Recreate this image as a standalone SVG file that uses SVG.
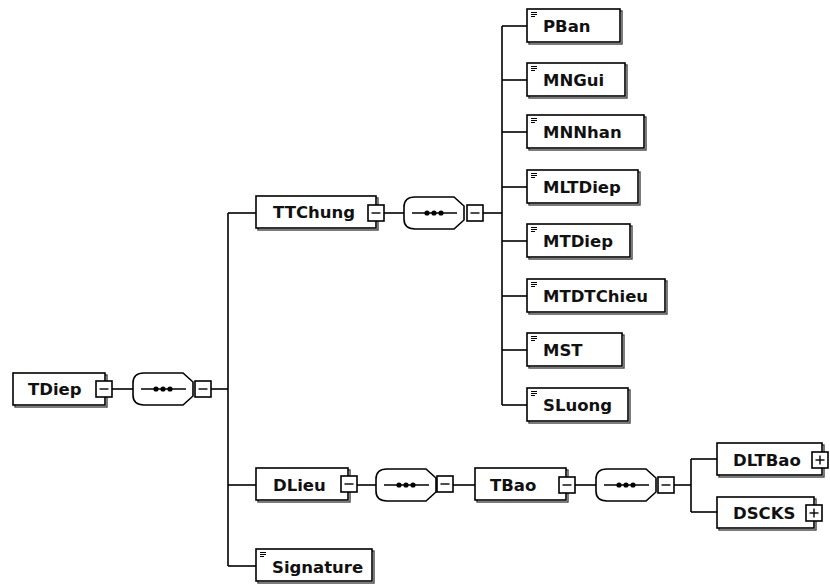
<svg xmlns="http://www.w3.org/2000/svg" xmlns:xlink="http://www.w3.org/1999/xlink" width="830" height="585" viewBox="0 0 830 585">
  <style>
    .box { fill: #fff; stroke: #000; stroke-width: 1.6; }
    .shadow { fill: none; stroke: #444; stroke-width: 1.4; }
    .conn { fill: none; stroke: #000; stroke-width: 1.6; }
    .label { font-family: "DejaVu Sans", Verdana, sans-serif; font-weight: bold; font-size: 16.5px; fill: #111; }
  </style>
  <defs>
    <!-- sequence compositor: softened octagon with a dotted bar -->
    <g id="seq">
      <path d="M11,0 H50 L60,9 V23 L50,32 H11 Q0,32 0,22 V10 Q0,0 11,0 Z" fill="#fff" stroke="#000" stroke-width="1.6"/>
      <line x1="8" y1="16" x2="53" y2="16" stroke="#000" stroke-width="1.4"/>
      <circle cx="23" cy="16" r="2.6" fill="#000"/>
      <circle cx="30" cy="16" r="2.6" fill="#000"/>
      <circle cx="37" cy="16" r="2.6" fill="#000"/>
    </g>
    <!-- collapse button -->
    <g id="minus">
      <rect x="0" y="0" width="16" height="16" fill="#fff" stroke="#000" stroke-width="1.6"/>
      <line x1="3.5" y1="8" x2="12.5" y2="8" stroke="#000" stroke-width="1.4"/>
    </g>
    <!-- expand button -->
    <g id="plus">
      <rect x="0" y="0" width="16" height="16" fill="#fff" stroke="#000" stroke-width="1.6"/>
      <line x1="3.5" y1="8" x2="12.5" y2="8" stroke="#000" stroke-width="1.4"/>
      <line x1="8" y1="3.5" x2="8" y2="12.5" stroke="#000" stroke-width="1.4"/>
    </g>
    <!-- simple-content icon -->
    <g id="leaf">
      <path d="M0,0.5 H6 M0,2.5 H6 M0,4.5 H4" stroke="#000" stroke-width="1"/>
    </g>
  </defs>

  <rect width="830" height="585" fill="#fff"/>

  <!-- connectors -->
  <g id="connectors" class="conn">
    <!-- TDiep -> sequence -> children -->
    <line x1="112" y1="389" x2="133" y2="389"/>
    <line x1="211" y1="389" x2="228" y2="389"/>
    <line x1="228" y1="213" x2="228" y2="566"/>
    <line x1="228" y1="213" x2="256" y2="213"/>
    <line x1="228" y1="485" x2="256" y2="485"/>
    <line x1="228" y1="566" x2="256" y2="566"/>
    <!-- TTChung -> sequence -> children -->
    <line x1="384" y1="213" x2="404" y2="213"/>
    <line x1="483" y1="213" x2="502" y2="213"/>
    <line x1="502" y1="26" x2="502" y2="405"/>
    <line x1="502" y1="26" x2="527" y2="26"/>
    <line x1="502" y1="80" x2="527" y2="80"/>
    <line x1="502" y1="132" x2="527" y2="132"/>
    <line x1="502" y1="187" x2="527" y2="187"/>
    <line x1="502" y1="241" x2="527" y2="241"/>
    <line x1="502" y1="296" x2="527" y2="296"/>
    <line x1="502" y1="350" x2="527" y2="350"/>
    <line x1="502" y1="405" x2="527" y2="405"/>
    <!-- DLieu -> sequence -> TBao -> sequence -> children -->
    <line x1="357" y1="485" x2="376" y2="485"/>
    <line x1="453" y1="485" x2="475" y2="485"/>
    <line x1="575" y1="485" x2="596" y2="485"/>
    <line x1="674" y1="485" x2="691" y2="485"/>
    <line x1="691" y1="459" x2="691" y2="512"/>
    <line x1="691" y1="459" x2="717" y2="459"/>
    <line x1="691" y1="512" x2="717" y2="512"/>
  </g>

  <!-- root element -->
  <g id="TDiep">
    <rect class="shadow" x="15" y="375" width="92" height="32"/>
    <rect class="box" x="13" y="373" width="92" height="32"/>
    <text class="label" x="28" y="395">TDiep</text>
    <use xlink:href="#minus" x="96" y="381"/>
  </g>
  <g id="TDiep-seq">
    <use xlink:href="#seq" x="133" y="373"/>
    <use xlink:href="#minus" x="195" y="381"/>
  </g>

  <!-- TTChung branch -->
  <g id="TTChung">
    <rect class="shadow" x="258" y="198" width="120" height="32"/>
    <rect class="box" x="256" y="196" width="120" height="32"/>
    <text class="label" x="273" y="218">TTChung</text>
    <use xlink:href="#minus" x="368" y="205"/>
  </g>
  <g id="TTChung-seq">
    <use xlink:href="#seq" x="404" y="197"/>
    <use xlink:href="#minus" x="467" y="205"/>
  </g>

  <g id="PBan">
    <rect class="shadow" x="529" y="11" width="93" height="33"/>
    <rect class="box" x="527" y="9" width="93" height="33"/>
    <use xlink:href="#leaf" x="531" y="12"/>
    <text class="label" x="543" y="32">PBan</text>
  </g>
  <g id="MNGui">
    <rect class="shadow" x="529" y="65" width="98" height="33"/>
    <rect class="box" x="527" y="63" width="98" height="33"/>
    <use xlink:href="#leaf" x="531" y="66"/>
    <text class="label" x="543" y="86">MNGui</text>
  </g>
  <g id="MNNhan">
    <rect class="shadow" x="529" y="117" width="117" height="33"/>
    <rect class="box" x="527" y="115" width="117" height="33"/>
    <use xlink:href="#leaf" x="531" y="118"/>
    <text class="label" x="543" y="138">MNNhan</text>
  </g>
  <g id="MLTDiep">
    <rect class="shadow" x="529" y="172" width="111" height="33"/>
    <rect class="box" x="527" y="170" width="111" height="33"/>
    <use xlink:href="#leaf" x="531" y="173"/>
    <text class="label" x="543" y="193">MLTDiep</text>
  </g>
  <g id="MTDiep">
    <rect class="shadow" x="529" y="226" width="103" height="33"/>
    <rect class="box" x="527" y="224" width="103" height="33"/>
    <use xlink:href="#leaf" x="531" y="227"/>
    <text class="label" x="543" y="247">MTDiep</text>
  </g>
  <g id="MTDTChieu">
    <rect class="shadow" x="529" y="281" width="138" height="33"/>
    <rect class="box" x="527" y="279" width="138" height="33"/>
    <use xlink:href="#leaf" x="531" y="282"/>
    <text class="label" x="543" y="302">MTDTChieu</text>
  </g>
  <g id="MST">
    <rect class="shadow" x="529" y="335" width="95" height="33"/>
    <rect class="box" x="527" y="333" width="95" height="33"/>
    <use xlink:href="#leaf" x="531" y="336"/>
    <text class="label" x="543" y="356">MST</text>
  </g>
  <g id="SLuong">
    <rect class="shadow" x="529" y="390" width="101" height="33"/>
    <rect class="box" x="527" y="388" width="101" height="33"/>
    <use xlink:href="#leaf" x="531" y="391"/>
    <text class="label" x="543" y="411">SLuong</text>
  </g>

  <!-- DLieu branch -->
  <g id="DLieu">
    <rect class="shadow" x="258" y="470" width="92" height="32"/>
    <rect class="box" x="256" y="468" width="92" height="32"/>
    <text class="label" x="273" y="491">DLieu</text>
    <use xlink:href="#minus" x="341" y="476"/>
  </g>
  <g id="DLieu-seq">
    <use xlink:href="#seq" x="376" y="469"/>
    <use xlink:href="#minus" x="437" y="476"/>
  </g>
  <g id="TBao">
    <rect class="shadow" x="477" y="470" width="91" height="32"/>
    <rect class="box" x="475" y="468" width="91" height="32"/>
    <text class="label" x="490" y="491">TBao</text>
    <use xlink:href="#minus" x="559" y="477"/>
  </g>
  <g id="TBao-seq">
    <use xlink:href="#seq" x="596" y="469"/>
    <use xlink:href="#minus" x="658" y="477"/>
  </g>
  <g id="DLTBao">
    <rect class="shadow" x="719" y="445" width="105" height="32"/>
    <rect class="box" x="717" y="443" width="105" height="32"/>
    <text class="label" x="733" y="466">DLTBao</text>
    <use xlink:href="#plus" x="812" y="452"/>
  </g>
  <g id="DSCKS">
    <rect class="shadow" x="719" y="499" width="97" height="31"/>
    <rect class="box" x="717" y="497" width="97" height="31"/>
    <text class="label" x="733" y="519">DSCKS</text>
    <use xlink:href="#plus" x="806" y="505"/>
  </g>

  <!-- Signature -->
  <g id="Signature">
    <rect class="shadow" x="258" y="551" width="116" height="32"/>
    <rect class="box" x="256" y="549" width="116" height="32"/>
    <use xlink:href="#leaf" x="260" y="552"/>
    <text class="label" x="272" y="573">Signature</text>
  </g>
</svg>
